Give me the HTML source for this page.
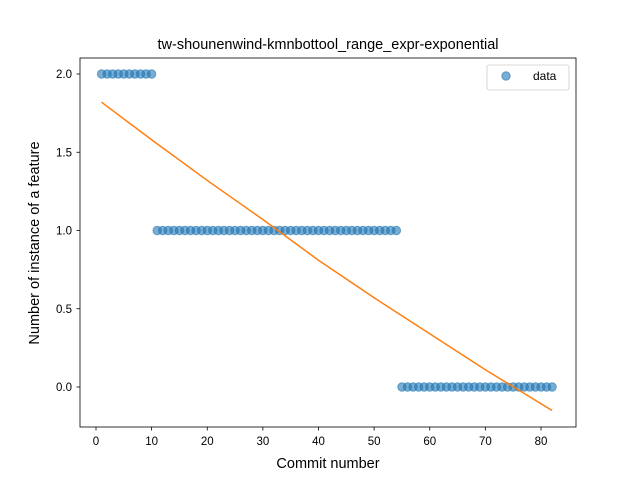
<!DOCTYPE html>
<html><head><meta charset="utf-8"><style>
body{margin:0;background:#fff;font-family:"Liberation Sans","DejaVu Sans",sans-serif}
</style></head><body>
<svg id="chart" width="640" height="480" xmlns="http://www.w3.org/2000/svg">
<rect width="640" height="480" fill="#fff"/>
<text x="328" y="49" text-anchor="middle" font-size="14.5">tw-shounenwind-kmnbottool_range_expr-exponential</text>
<g id="marks"></g>
<rect x="80" y="58" width="496" height="369" fill="none" stroke="#000" stroke-width="0.8"/>
<g id="axes" font-size="11.5"></g>
<text x="328" y="468" text-anchor="middle" font-size="14.5">Commit number</text>
<text transform="translate(39,243) rotate(-90)" text-anchor="middle" font-size="14.5">Number of instance of a feature</text>
<g>
<rect x="487" y="65" width="82" height="25" rx="2" fill="#fff" stroke="#ccc" stroke-width="0.8"/>
<circle cx="506" cy="76" r="4.2" fill="#1f77b4" fill-opacity="0.6" stroke="#1f77b4" stroke-opacity="0.6"/>
<text x="533" y="80" font-size="12">data</text>
</g>
</svg>
<script>
const xs = [];
const ys = [];
for (let i = 1; i <= 10; i++) { xs.push(i); ys.push(2); }
for (let i = 11; i <= 54; i++) { xs.push(i); ys.push(1); }
for (let i = 55; i <= 82; i++) { xs.push(i); ys.push(0); }
const fitX = [1, 10, 20, 30, 40, 50, 60, 70, 76, 82];
const fitY = [1.82, 1.58, 1.32, 1.07, 0.81, 0.57, 0.34, 0.11, -0.02, -0.15];
const xTicks = [0, 10, 20, 30, 40, 50, 60, 70, 80];
const yTicks = [0.0, 0.5, 1.0, 1.5, 2.0];
const X = v => 96 + 5.5625 * v;
const Y = v => 387 - 156.5 * v;
const NS = "http://www.w3.org/2000/svg";
const marks = document.getElementById('marks');
const axes = document.getElementById('axes');
xs.forEach((x, i) => {
  const c = document.createElementNS(NS, 'circle');
  c.setAttribute('cx', X(x)); c.setAttribute('cy', Y(ys[i])); c.setAttribute('r', 4.2);
  c.setAttribute('fill', '#1f77b4'); c.setAttribute('fill-opacity', '0.6');
  c.setAttribute('stroke', '#1f77b4'); c.setAttribute('stroke-opacity', '0.6');
  
  
  marks.appendChild(c);
});
const p = document.createElementNS(NS, 'polyline');
p.setAttribute('points', fitX.map((x, i) => X(x) + ',' + Y(fitY[i])).join(' '));
p.setAttribute('fill', 'none'); p.setAttribute('stroke', '#ff7f0e'); p.setAttribute('stroke-width', '1.5');


marks.appendChild(p);
xTicks.forEach(t => {
  const l = document.createElementNS(NS, 'line');
  l.setAttribute('x1', X(t)); l.setAttribute('x2', X(t)); l.setAttribute('y1', 427); l.setAttribute('y2', 430.5);
  l.setAttribute('stroke', '#000'); l.setAttribute('stroke-width', '0.8');
  
  
  axes.appendChild(l);
  const tx = document.createElementNS(NS, 'text');
  tx.setAttribute('x', X(t)); tx.setAttribute('y', 445); tx.setAttribute('text-anchor', 'middle');
  tx.textContent = t;
  
  
  axes.appendChild(tx);
});
yTicks.forEach(t => {
  const l = document.createElementNS(NS, 'line');
  l.setAttribute('x1', 76.5); l.setAttribute('x2', 80); l.setAttribute('y1', Y(t)); l.setAttribute('y2', Y(t));
  l.setAttribute('stroke', '#000'); l.setAttribute('stroke-width', '0.8');
  
  
  axes.appendChild(l);
  const tx = document.createElementNS(NS, 'text');
  tx.setAttribute('x', 72); tx.setAttribute('y', Y(t) + 4); tx.setAttribute('text-anchor', 'end');
  tx.textContent = t.toFixed(1);
  
  
  axes.appendChild(tx);
});
</script>
</body></html>
